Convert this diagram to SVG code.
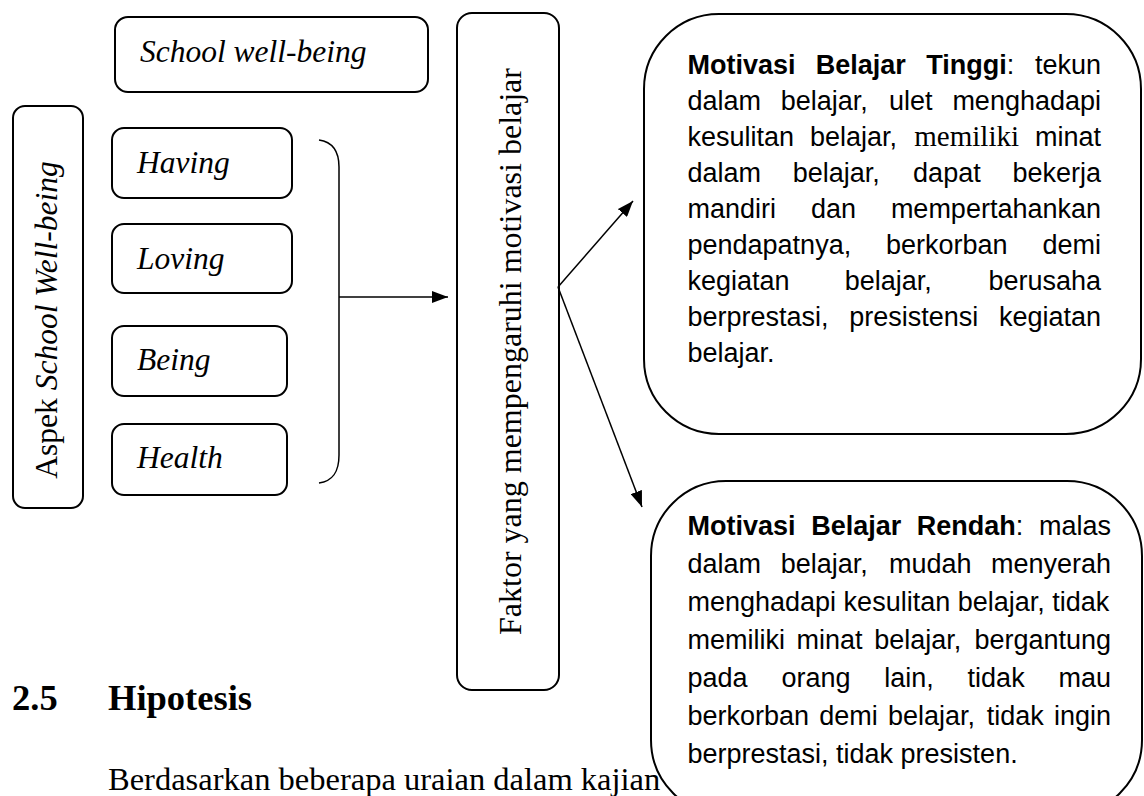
<svg xmlns="http://www.w3.org/2000/svg" width="1144" height="796" viewBox="0 0 1144 796">
<style>
.bx{fill:#fff;stroke:#000;stroke-width:2}
.sr{font-family:"Liberation Serif","Times New Roman",serif;fill:#000}
.it{font-style:italic}
.lbl{font-size:31.5px}
.t{font-family:"Liberation Sans",Arial,sans-serif;font-size:27px;fill:#000}
.b{font-weight:bold}
.e{text-anchor:end}
.tm{font-family:"Liberation Serif","Times New Roman",serif;font-size:29px}
.cn{fill:none;stroke:#000;stroke-width:1.5}
</style>
<defs>
<marker id="ah" viewBox="0 0 16 12" markerWidth="16" markerHeight="12" markerUnits="userSpaceOnUse" refX="16" refY="6" orient="auto">
<path d="M0,0 L16,6 L0,12 z" fill="#000"/>
</marker>
</defs>
<rect width="1144" height="796" fill="#fff"/>

<g id="heading">
<text class="sr b" x="12" y="710" font-size="36.5">2.5</text>
<text class="sr b" x="108" y="710" font-size="36.5">Hipotesis</text>
<text class="sr" x="108" y="790" font-size="32.5">Berdasarkan beberapa uraian dalam kajian</text>
</g>

<g id="school-well-being">
<rect class="bx" x="115" y="17" width="313" height="75" rx="13"/>
<text class="sr it lbl" x="140" y="62">School well-being</text>
</g>

<g id="aspek">
<rect class="bx" x="13" y="106" width="70" height="402" rx="12"/>
<text class="sr lbl" transform="translate(57,320) rotate(-90)" text-anchor="middle">Aspek <tspan class="it">School Well-being</tspan></text>
</g>

<g id="having">
<rect class="bx" x="112" y="128" width="180" height="70" rx="12"/>
<text class="sr it lbl" x="137" y="173">Having</text>
</g>
<g id="loving">
<rect class="bx" x="112" y="224" width="180" height="69" rx="12"/>
<text class="sr it lbl" x="137" y="269">Loving</text>
</g>
<g id="being">
<rect class="bx" x="112" y="326" width="175" height="70" rx="12"/>
<text class="sr it lbl" x="137" y="370">Being</text>
</g>
<g id="health">
<rect class="bx" x="112" y="424" width="175" height="71" rx="12"/>
<text class="sr it lbl" x="137" y="468">Health</text>
</g>

<g id="faktor">
<rect class="bx" x="457" y="13" width="102" height="677" rx="15"/>
<text class="sr" font-size="32" transform="translate(521,351.5) rotate(-90)" text-anchor="middle">Faktor yang mempengaruhi motivasi belajar</text>
</g>

<g id="connectors">
<path class="cn" d="M319,140 C333,142 339,152 339,167 L339,455 C339,472 333,481 319,483"/>
<line class="cn" x1="339" y1="297" x2="448" y2="297" marker-end="url(#ah)"/>
<line class="cn" x1="558" y1="287" x2="633" y2="201" marker-end="url(#ah)"/>
<line class="cn" x1="558" y1="287" x2="642" y2="507" marker-end="url(#ah)"/>
</g>

<g id="motivasi-tinggi">
<rect class="bx" x="644" y="14" width="497" height="420" rx="75"/>
<text class="t" y="74"><tspan class="b" x="687.5">Motivasi</tspan><tspan class="b" x="815.8">Belajar</tspan><tspan x="926.2"><tspan class="b">Tinggi</tspan>:</tspan></text>
<text class="t e" x="1101" y="74">tekun</text>
<text class="t" y="110"><tspan x="687.5">dalam</tspan><tspan x="780.8">belajar,</tspan><tspan x="889.1">ulet</tspan></text>
<text class="t e" x="1101" y="110">menghadapi</text>
<text class="t" y="146"><tspan x="687.5">kesulitan</tspan><tspan x="809.9">belajar,</tspan><tspan class="tm" x="914.3">memiliki</tspan></text>
<text class="t e" x="1101" y="146">minat</text>
<text class="t" y="182"><tspan x="687.5">dalam</tspan><tspan x="792.8">belajar,</tspan><tspan x="913.1">dapat</tspan></text>
<text class="t e" x="1101" y="182">bekerja</text>
<text class="t" y="218"><tspan x="687.5">mandiri</tspan><tspan x="811">dan</tspan></text>
<text class="t e" x="1101" y="218">mempertahankan</text>
<text class="t" y="254"><tspan x="687.5">pendapatnya,</tspan><tspan x="886">berkorban</tspan></text>
<text class="t e" x="1101" y="254">demi</text>
<text class="t" y="290"><tspan x="687.5">kegiatan</tspan><tspan x="844.8">belajar,</tspan></text>
<text class="t e" x="1101" y="290">berusaha</text>
<text class="t" y="326"><tspan x="687.5">berprestasi,</tspan><tspan x="849.2">presistensi</tspan></text>
<text class="t e" x="1101" y="326">kegiatan</text>
<text class="t" x="687.5" y="362">belajar.</text>
</g>

<g id="motivasi-rendah">
<rect class="bx" x="651" y="481" width="491" height="334" rx="75"/>
<text class="t" y="535"><tspan class="b" x="687.5">Motivasi</tspan><tspan class="b" x="811.2">Belajar</tspan><tspan x="916.8"><tspan class="b">Rendah</tspan>:</tspan></text>
<text class="t e" x="1111" y="535">malas</text>
<text class="t" y="573"><tspan x="687.5">dalam</tspan><tspan x="780.7">belajar,</tspan><tspan x="888.9">mudah</tspan></text>
<text class="t e" x="1111" y="573">menyerah</text>
<text class="t" x="687.5" y="611">menghadapi kesulitan belajar, tidak</text>
<text class="t" y="649"><tspan x="687.5">memiliki</tspan><tspan x="796.6">minat</tspan><tspan x="874.2">belajar,</tspan></text>
<text class="t e" x="1111" y="649">bergantung</text>
<text class="t" y="687"><tspan x="687.5">pada</tspan><tspan x="781.4">orang</tspan><tspan x="884.3">lain,</tspan><tspan x="967.6">tidak</tspan></text>
<text class="t e" x="1111" y="687">mau</text>
<text class="t" y="725"><tspan x="687.5">berkorban</tspan><tspan x="819.3">demi</tspan><tspan x="888">belajar,</tspan><tspan x="986.7">tidak</tspan></text>
<text class="t e" x="1111" y="725">ingin</text>
<text class="t" x="687.5" y="763">berprestasi, tidak presisten.</text>
</g>
</svg>
